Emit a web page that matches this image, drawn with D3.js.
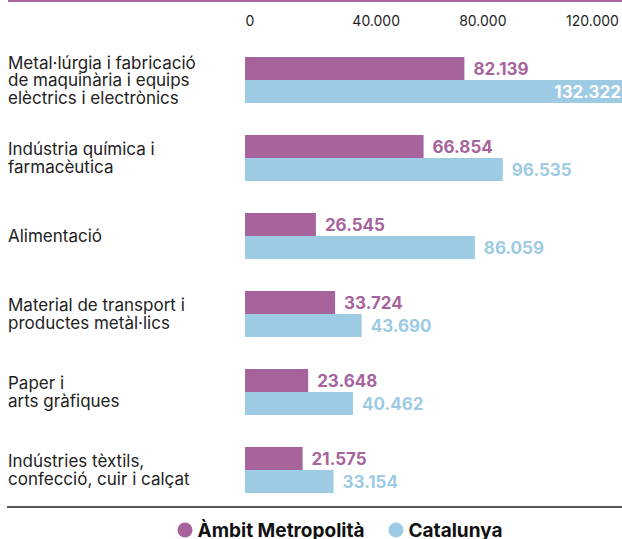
<!DOCTYPE html>
<html><head><meta charset="utf-8">
<script src="https://cdn.jsdelivr.net/npm/d3@7"></script>
<style>
html,body{margin:0;padding:0;background:#fff;}
svg{display:block;font-family:Inter, "Noto Sans", sans-serif;}
</style></head>
<body><svg id="c" width="622" height="539"></svg>
<script>
const categories = [
  ["Metal·lúrgia i fabricació","de maquinària i equips","elèctrics i electrònics"],
  ["Indústria química i","farmacèutica"],
  ["Alimentació"],
  ["Material de transport i","productes metàl·lics"],
  ["Paper i","arts gràfiques"],
  ["Indústries tèxtils,","confecció, cuir i calçat"]
];
const ambitValues = [82139, 66854, 26545, 33724, 23648, 21575];
const catalunyaValues = [132322, 96535, 86059, 43690, 40462, 33154];
const tickValues = [0, 40000, 80000, 120000];
const seriesNames = ["Àmbit Metropolità", "Catalunya"];
const colors = ["#a6639c", "#9ccbe3"];

const W = 622, H = 539;
const svg = d3.select("#c");
const fmt = v => d3.format(",")(v).replace(/,/g, ".");

const x = d3.scaleLinear().domain([0, 120000]).range([245, 565.5]);
const y0 = d3.scaleBand().domain(d3.range(categories.length)).range([57, 525]).paddingInner(0).paddingOuter(0);
const barH = 23;

// top rule
svg.append("line").attr("x1", 8).attr("x2", W).attr("y1", 1).attr("y2", 1)
  .attr("stroke", colors[0]).attr("stroke-width", 2);

// axis tick labels
const ax = svg.append("g").attr("transform", "translate(0,26)");
const axis = d3.axisTop(x).tickValues(tickValues).tickFormat(fmt).tickSize(0).tickPadding(0);
ax.call(axis);
ax.select(".domain").remove();
ax.selectAll("text").attr("text-anchor", "start").attr("dy", 0).attr("dx", 0)
  .attr("font-size", 14).attr("fill", "#222").attr("font-family", "Inter, sans-serif");

// bar end: values beyond the axis maximum run off to the right edge
const barEnd = v => v > x.domain()[1] ? W : x(v);

const groups = svg.append("g").selectAll("g").data(categories).join("g")
  .attr("transform", (d, i) => `translate(0,${y0(i)})`);

// category labels
groups.each(function(lines, i) {
  const g = d3.select(this);
  const center = barH;
  lines.forEach((ln, j) => {
    g.append("text").attr("font-size", 17).attr("fill", "#222")
      .attr("x", 8)
      .attr("y", center + (j - (lines.length - 1) / 2) * 17.5)
      .attr("dy", "0.36em").text(ln);
  });
});

// bars
[ambitValues, catalunyaValues].forEach((vals, s) => {
  groups.append("rect")
    .attr("x", x(0)).attr("y", s * barH)
    .attr("width", (d, i) => barEnd(vals[i]) - x(0))
    .attr("height", barH)
    .attr("fill", colors[s]);
  groups.append("text")
    .attr("font-size", 17).attr("font-weight", 700)
    .attr("y", s * barH + barH / 2).attr("dy", "0.36em")
    .each(function(d, i) {
      const v = vals[i];
      const t = d3.select(this).text(fmt(v));
      if (v > x.domain()[1]) {
        t.attr("x", barEnd(v) - 1).attr("text-anchor", "end").attr("fill", "#fff");
      } else {
        t.attr("x", barEnd(v) + 9).attr("text-anchor", "start").attr("fill", colors[s]);
      }
    });
});

// bottom rule
svg.append("line").attr("x1", 7).attr("x2", W).attr("y1", 507).attr("y2", 507)
  .attr("stroke", "#222").attr("stroke-width", 1.6);

// legend
const leg = svg.append("g").attr("transform", "translate(0,530)");
const legX = [185, 396];
seriesNames.forEach((n, i) => {
  leg.append("circle").attr("cx", legX[i]).attr("cy", 0).attr("r", 7.5).attr("fill", colors[i]);
  leg.append("text").attr("x", legX[i] + 12.5).attr("y", 0).attr("dy", "0.36em")
    .attr("font-size", 19).attr("font-weight", 700).attr("fill", "#111").text(n);
});
</script></body></html>
